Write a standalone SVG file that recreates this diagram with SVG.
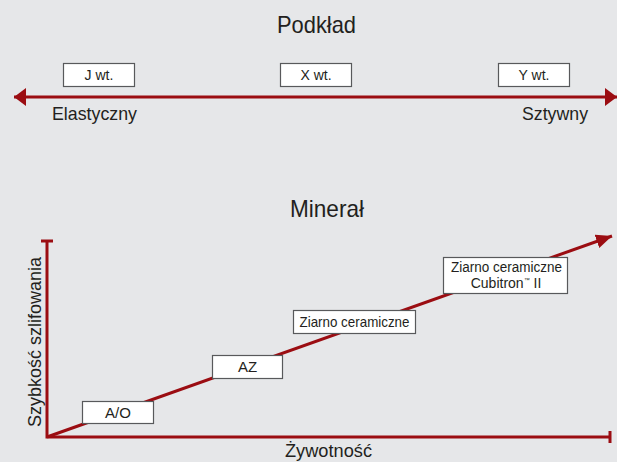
<svg xmlns="http://www.w3.org/2000/svg" width="617" height="462" viewBox="0 0 617 462">
<style>
.t{font-family:"Liberation Sans",Arial,sans-serif;fill:#231f20}
.box{fill:#fff;stroke:#58595b;stroke-width:1.2}
.red{stroke:#9b0d12;stroke-width:3;fill:none}
</style>
<defs>
<marker id="ah" viewBox="0 0 12 18" refX="12" refY="9" markerWidth="12" markerHeight="18" markerUnits="userSpaceOnUse" orient="auto-start-reverse">
<path d="M0,0 L12,9 L0,18 z" fill="#9b0d12"/>
</marker>
<marker id="ah2" viewBox="0 0 16 14" refX="16" refY="7" markerWidth="16" markerHeight="14" markerUnits="userSpaceOnUse" orient="auto">
<path d="M0,0 L16,7 L0,14 z" fill="#9b0d12"/>
</marker>
</defs>
<rect width="617" height="462" fill="#e6e7e9"/>
<g id="connectors">
<path class="red" d="M14,97 L617,97" marker-start="url(#ah)" marker-end="url(#ah)"/>
<path class="red" d="M47,241 L47,437 L610,437"/>
<path class="red" d="M41,241 L53,241"/>
<path class="red" d="M610,431 L610,443"/>
<path class="red" d="M47,437 L612,236" marker-end="url(#ah2)"/>
</g>
<g id="titles">
<text class="t" x="316.5" y="33" font-size="24" text-anchor="middle" textLength="79" lengthAdjust="spacingAndGlyphs">Podkład</text>
<text class="t" x="327" y="217" font-size="24" text-anchor="middle" textLength="74" lengthAdjust="spacingAndGlyphs">Minerał</text>
<text class="t" x="52" y="120" font-size="19" textLength="85" lengthAdjust="spacingAndGlyphs">Elastyczny</text>
<text class="t" x="522" y="120" font-size="19" textLength="66" lengthAdjust="spacingAndGlyphs">Sztywny</text>
<text class="t" x="285" y="457" font-size="19" textLength="87" lengthAdjust="spacingAndGlyphs">Żywotność</text>
<text class="t" transform="translate(41,342) rotate(-90)" x="0" y="0" font-size="19" text-anchor="middle" textLength="170" lengthAdjust="spacingAndGlyphs">Szybkość szlifowania</text>
</g>
<g id="node-j">
<rect class="box" x="63.5" y="63.5" width="71" height="23"/>
<text class="t" x="99" y="80" font-size="14" text-anchor="middle">J wt.</text>
</g>
<g id="node-x">
<rect class="box" x="280.5" y="63.5" width="71" height="23"/>
<text class="t" x="316" y="80" font-size="14" text-anchor="middle">X wt.</text>
</g>
<g id="node-y">
<rect class="box" x="498.5" y="63.5" width="71" height="23"/>
<text class="t" x="534" y="80" font-size="14" text-anchor="middle">Y wt.</text>
</g>
<g id="node-ao">
<rect class="box" x="82.5" y="401.5" width="71" height="22"/>
<text class="t" x="118" y="418" font-size="15" text-anchor="middle">A/O</text>
</g>
<g id="node-az">
<rect class="box" x="212.5" y="355.5" width="70" height="23"/>
<text class="t" x="247.5" y="372" font-size="15" text-anchor="middle">AZ</text>
</g>
<g id="node-ceramic">
<rect class="box" x="293.5" y="310.5" width="122" height="23"/>
<text class="t" x="354.5" y="327" font-size="15" text-anchor="middle" textLength="110" lengthAdjust="spacingAndGlyphs">Ziarno ceramiczne</text>
</g>
<g id="node-cubitron">
<rect class="box" x="443.5" y="257.5" width="124" height="36"/>
<text class="t" x="506.5" y="272" font-size="14" text-anchor="middle" textLength="111" lengthAdjust="spacingAndGlyphs">Ziarno ceramiczne</text>
<text class="t" x="506" y="288" font-size="14" text-anchor="middle">Cubitron<tspan font-size="6" dy="-6">™</tspan><tspan dy="6"> II</tspan></text>
</g>
</svg>
